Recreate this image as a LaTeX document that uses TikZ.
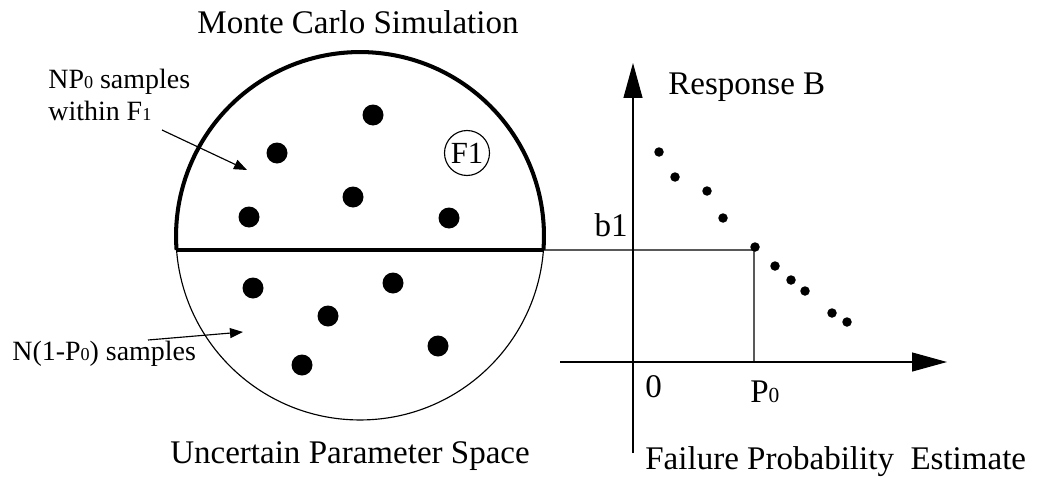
\documentclass[tikz,border=0pt]{standalone}
\usepackage{fontspec}
\setmainfont{Liberation Serif}
\usetikzlibrary{arrows.meta}
\newcommand{\lowdig}[1]{\scalebox{0.65}{#1}}

\begin{document}
\begin{tikzpicture}[x=0.02cm,y=-0.02cm,
  bigfont/.style={font=\fontsize{18.8}{22}\selectfont},
  smallfont/.style={font=\fontsize{15.9}{18.2}\selectfont},
  sample/.style={circle,fill=black,inner sep=0pt,minimum size=0.42cm},
  estim/.style={circle,fill=black,inner sep=0pt,minimum size=0.19cm},
  thinline/.style={line width=0.65pt},
  axis/.style={thinline,-{Triangle[length=0.7cm,width=0.38cm]}},
  pointer/.style={thinline,-{Triangle[length=0.26cm,width=0.2cm]}},
  label/.style={inner sep=0pt}]

\useasboundingbox (0,0) rectangle (1041,477);

% parameter space
\coordinate (ctr) at (360,236);
\draw[thinline] (ctr) circle[radius=3.68cm];
\draw[line width=2.3pt] (ctr) ++(-4.36:3.68cm) coordinate (dR)
  arc[start angle=-4.36,end angle=184.36,radius=3.68cm] coordinate (dL);
\draw[line width=2.3pt] (dL) -- (dR);

\foreach \x/\y [count=\i] in {373/115,277/153,353/197,249/217,449/218}
  \node[sample] (in\i) at (\x,\y) {};
\foreach \x/\y [count=\i] in {253/288,393/283,328/316,438/346,302/365}
  \node[sample] (out\i) at (\x,\y) {};

\node[draw,circle,thinline,inner sep=0pt,minimum size=0.9cm,
      font=\fontsize{17.5}{20}\selectfont] (F1) at (467,153) {F1};

\node[label,bigfont,anchor=base] (title) at (358,33) {Monte Carlo Simulation};
\node[label,bigfont,anchor=base] (space) at (350,463) {Uncertain Parameter Space};

% annotations
\node[label,smallfont,align=left,anchor=base west] (np) at (48,120) {NP\lowdig{0} samples\\within F\lowdig{1}};
\coordinate (npS) at (162,130);
\coordinate (npE) at (247,170);
\draw[pointer] (npS) -- (npE);

\node[label,smallfont,anchor=base west] (nq) at (12,360) {N(1-P\lowdig{0}) samples};
\coordinate (nqS) at (148,340);
\coordinate (nqE) at (243,332);
\draw[pointer] (nqS) -- (nqE);

% estimate axes
\coordinate (yb) at (633,453);
\coordinate (yt) at (633,63);
\coordinate (xl) at (560,362);
\coordinate (xr) at (947,362);
\draw[axis] (yb) -- (yt);
\draw[axis] (xl) -- (xr);

\foreach \x/\y [count=\i] in {659/152,675/177,707/191,723/218,755/247,
                              775/266,791/280,805/291,832/313,847/322}
  \node[estim] (e\i) at (\x,\y) {};

\coordinate (p0) at (754,250);
\coordinate (p0ax) at (754,362);
\draw[thinline] (dR) -- (p0) -- (p0ax);

\node[label,bigfont,anchor=base west] (resp) at (668,94) {Response B};
\node[label,bigfont,anchor=base east] (b1) at (628,236) {b1};
\node[label,bigfont,anchor=base west] (zero) at (645,397) {0};
\node[label,bigfont,anchor=base west] (p0lab) at (750,402) {P\lowdig{0}};
\node[label,bigfont,anchor=base west] (xlab) at (645,469) {Failure Probability\ \ Estimate};
\end{tikzpicture}
\end{document}
